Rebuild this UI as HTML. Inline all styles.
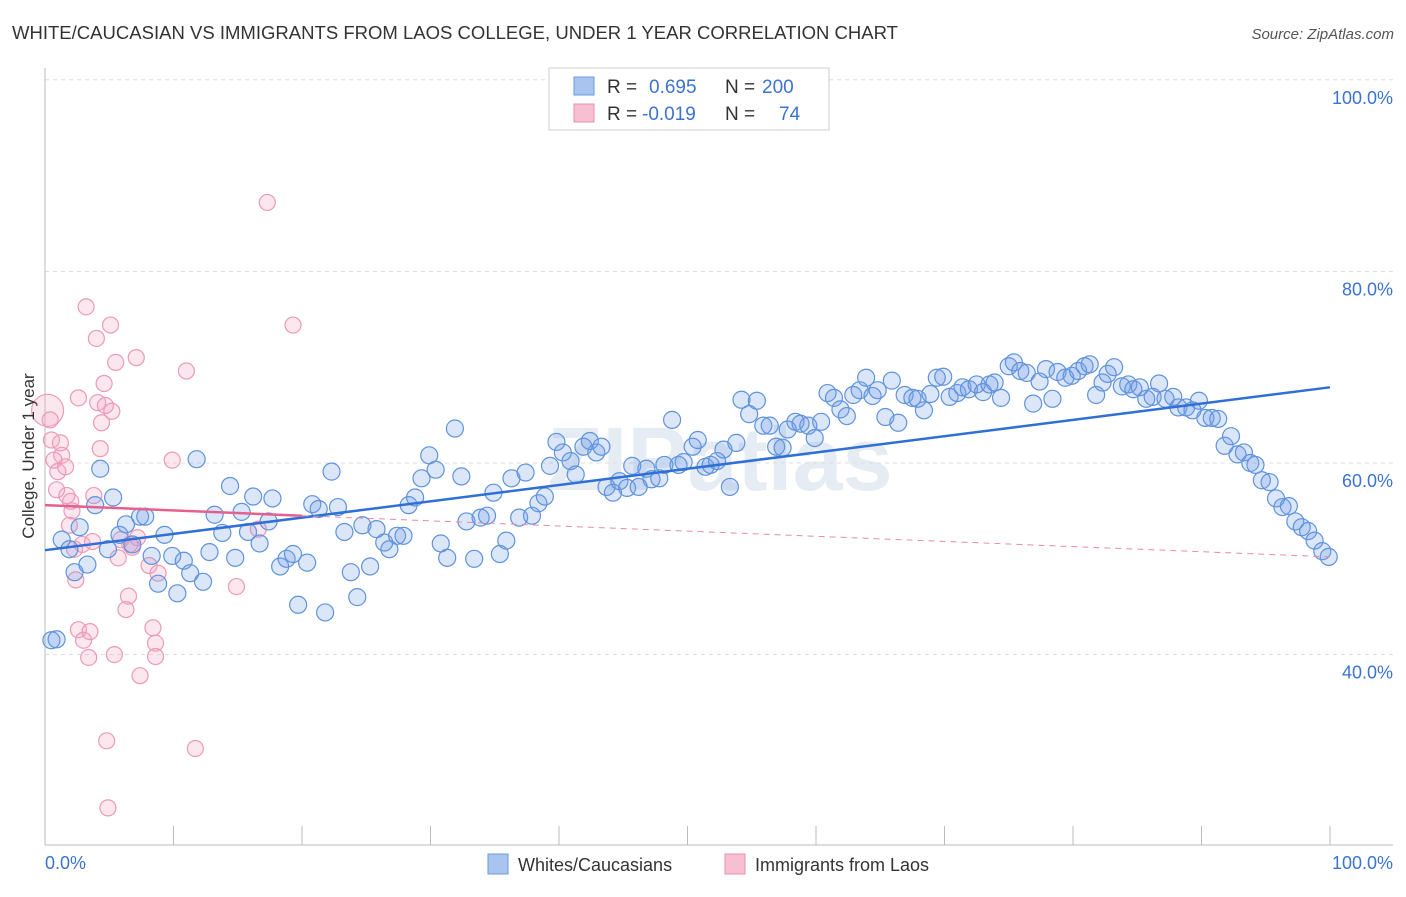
<!DOCTYPE html>
<html><head><meta charset="utf-8"><style>
body{margin:0;background:#fff;font-family:"Liberation Sans",sans-serif;}
svg text{font-family:"Liberation Sans",sans-serif;}
</style></head><body>
<svg id="chart" width="1406" height="892">
<text x="12" y="39" font-size="18" fill="#333" textLength="886" lengthAdjust="spacingAndGlyphs">WHITE/CAUCASIAN VS IMMIGRANTS FROM LAOS COLLEGE, UNDER 1 YEAR CORRELATION CHART</text>
<text x="1394" y="39" font-size="15" fill="#555" font-style="italic" text-anchor="end">Source: ZipAtlas.com</text>
<text x="720" y="490" font-size="90" fill="#e6ecf4" text-anchor="middle" font-weight="bold">ZIPatlas</text>
<g id="grid"></g><g id="axes"></g><g id="pinkpts"></g><g id="bluepts"></g><g id="trends"></g>
<text transform="translate(34,456) rotate(-90)" font-size="17" fill="#333" text-anchor="middle">College, Under 1 year</text>
<text x="45" y="869" font-size="18" fill="#3b73d1">0.0%</text>
<text x="1393" y="869" font-size="18" fill="#3b73d1" text-anchor="end">100.0%</text>
<g>
<rect x="549" y="68" width="280" height="62" fill="#fff" stroke="#ccc"/>
<rect x="574" y="77" width="20" height="18" fill="#a9c4ee" stroke="#6a9ae0"/>
<rect x="574" y="104" width="20" height="18" fill="#f7c0d2" stroke="#ea8fb0"/>
<text x="607" y="93" font-size="19" fill="#333">R =</text>
<text x="649" y="93" font-size="19" fill="#3b73d1">0.695</text>
<text x="725" y="93" font-size="19" fill="#333">N =</text>
<text x="762" y="93" font-size="19" fill="#3b73d1">200</text>
<text x="607" y="120" font-size="19" fill="#333">R =</text>
<text x="642" y="120" font-size="19" fill="#3b73d1">-0.019</text>
<text x="725" y="120" font-size="19" fill="#333">N =</text>
<text x="779" y="120" font-size="19" fill="#3b73d1">74</text>
</g>
<g>
<rect x="488" y="854" width="20" height="20" fill="#a9c4ee" stroke="#6a9ae0"/>
<text x="518" y="871" font-size="18" fill="#333">Whites/Caucasians</text>
<rect x="725" y="854" width="20" height="20" fill="#f7c0d2" stroke="#ea8fb0"/>
<text x="755" y="871" font-size="18" fill="#333">Immigrants from Laos</text>
</g>
</svg>
<script>
const blueX=[0.5,0.9,1.3,1.9,2.3,2.7,3.3,3.9,4.3,4.9,5.3,5.8,6.3,6.8,7.4,7.8,8.3,8.8,9.3,9.9,10.3,10.8,11.3,11.8,12.3,12.8,13.2,13.8,14.4,14.8,15.3,15.8,16.2,16.7,17.4,17.7,18.3,18.8,19.3,19.7,20.4,20.8,21.3,21.8,22.3,22.8,23.3,23.8,24.3,24.7,25.3,25.8,26.4,26.8,27.4,27.9,28.3,28.8,29.3,29.9,30.4,30.8,31.3,31.9,32.4,32.8,33.4,33.9,34.4,34.9,35.4,35.9,36.3,36.9,37.4,37.9,38.4,38.9,39.3,39.8,40.3,40.9,41.3,41.9,42.4,42.9,43.3,43.7,44.2,44.7,45.3,45.7,46.2,46.8,47.2,47.8,48.2,48.8,49.3,49.7,50.4,50.8,51.4,51.8,52.3,52.8,53.3,53.8,54.2,54.8,55.4,55.9,56.4,56.9,57.4,57.8,58.4,58.8,59.4,59.9,60.4,60.9,61.4,61.9,62.4,62.9,63.4,63.9,64.4,64.8,65.4,65.9,66.4,66.9,67.5,67.9,68.4,68.9,69.4,69.9,70.4,71,71.4,71.9,72.5,73,73.5,73.9,74.4,75,75.4,75.9,76.4,76.9,77.4,77.9,78.4,78.8,79.4,79.9,80.4,80.9,81.3,81.8,82.3,82.7,83.2,83.8,84.3,84.7,85.2,85.7,86.2,86.7,87.2,87.8,88.2,88.8,89.3,89.8,90.3,90.8,91.3,91.8,92.3,92.8,93.3,93.8,94.2,94.7,95.3,95.8,96.3,96.8,97.3,97.8,98.3,98.8,99.4,99.9];
const blueY=[41.5,41.6,52,51,48.6,53.3,49.4,55.6,59.4,51,56.4,52.5,53.6,51.5,54.4,54.4,50.3,47.4,52.5,50.3,46.4,49.8,48.5,60.4,47.6,50.7,54.6,52.7,57.6,50.1,54.9,52.8,56.5,51.6,53.9,56.3,49.2,50,50.5,45.2,49.6,55.7,55.2,44.4,59.1,55.4,52.8,48.6,46,53.5,49.2,53.1,51.7,51,52.4,52.4,55.6,56.4,58.4,60.8,59.3,51.6,50.1,63.6,58.6,53.9,50,54.3,54.5,56.9,50.5,51.9,58.4,54.3,59,54.5,55.8,56.5,59.7,62.2,61.1,60.2,58.8,61.7,62.3,61.1,61.7,57.5,56.9,58.1,57.4,59.7,57.5,59.4,58.3,58.4,59.8,64.5,59.8,60.1,61.7,62.4,59.6,59.8,60.2,61.4,57.5,62.1,66.6,65.1,66.5,63.9,63.9,61.7,61.6,63.5,64.3,64.1,63.9,62.6,64.3,67.3,66.8,65.6,64.9,67.1,67.6,68.9,67,67.6,64.8,68.6,64.2,67.1,66.8,66.7,65.5,67.2,68.9,69,66.9,67.3,67.9,67.7,68.2,67.4,68.2,68.4,66.8,70.1,70.5,69.6,69.4,66.2,68.5,69.8,66.7,69.5,68.9,69.1,69.6,70.1,70.3,67.1,68.4,69.3,70,68,68.2,67.7,67.9,66.7,66.9,68.3,66.7,66.9,65.8,65.8,65.5,66.5,64.7,64.7,64.6,61.8,62.8,60.9,61.1,60,59.8,58.2,58,56.3,55.4,55.5,53.9,53.3,52.9,51.9,50.8,50.2];
const pinkX=[0.2,0.4,0.5,0.7,0.9,1,1.2,1.3,1.6,1.7,1.9,2,2.1,2.3,2.4,2.6,2.6,2.9,3,3.2,3.4,3.5,3.7,3.8,4,4.1,4.3,4.4,4.6,4.7,4.8,4.9,5.1,5.2,5.4,5.5,5.7,5.9,6.3,6.5,6.6,6.8,7.1,7.2,7.4,8.1,8.4,8.6,8.6,8.8,9.9,11,11.7,14.9,16.6,17.3,19.3];
const pinkY=[65.5,64.5,62.4,60.3,57.2,59.1,62.1,60.8,59.6,56.6,53.5,56,55,51,47.8,66.8,42.6,51.5,41.5,76.3,39.7,42.4,51.8,56.6,73,66.3,61.5,64.2,68.3,66,31,24,74.4,65.4,40,70.5,50.1,52,44.7,46.1,51.5,51.2,71,52.2,37.8,49.3,42.8,41.2,39.8,48.5,60.3,69.6,30.2,47.1,53.1,87.2,74.4];
const yTicks=[40,60,80,100];
const yTickLabels=["40.0%","60.0%","80.0%","100.0%"];
const blueTrend=[[0,50.9],[100,67.9]];
const pinkTrend=[[0,55.6],[20,54.5],[100,50.2]];
const X=v=>45+v*12.85, Y=v=>463-(v-60)*9.58;
const NS="http://www.w3.org/2000/svg";
function mk(p,t,a){const e=document.createElementNS(NS,t);for(const k in a)e.setAttribute(k,a[k]);p.appendChild(e);return e;}
const grid=document.getElementById('grid'),axes=document.getElementById('axes');
yTicks.forEach((t,i)=>{
 const l=mk(grid,'line',{x1:45,x2:1393,y1:Y(t),y2:Y(t),stroke:'#ddd','stroke-dasharray':'4,4'});
 
 
 const tx=mk(grid,'text',{x:1393,y:Y(t)+24,'font-size':18,fill:'#3b73d1','text-anchor':'end'});
 tx.textContent=yTickLabels[i];
 
 
});
mk(axes,'line',{x1:45,x2:45,y1:68,y2:845,stroke:'#bbb'});
mk(axes,'line',{x1:45,x2:1393,y1:845,y2:845,stroke:'#bbb'});
for(let i=0;i<=10;i++){const t=mk(axes,'line',{x1:X(i*10),x2:X(i*10),y1:826,y2:845,stroke:'#bbb'});
 
 }
const pg=document.getElementById('pinkpts');
pinkX.forEach((x,i)=>{const c=mk(pg,'circle',{cx:X(x),cy:Y(pinkY[i]),r:i==0?16:8,fill:'rgba(244,160,190,0.25)',stroke:'#ec9ab6','stroke-width':1.2});
 
 });
const bg=document.getElementById('bluepts');
blueX.forEach((x,i)=>{const c=mk(bg,'circle',{cx:X(x),cy:Y(blueY[i]),r:8.5,fill:'rgba(110,155,230,0.25)',stroke:'#5f93dc','stroke-width':1.2});
 
 });
const tg=document.getElementById('trends');
const bt=mk(tg,'line',{x1:X(blueTrend[0][0]),y1:Y(blueTrend[0][1]),x2:X(blueTrend[1][0]),y2:Y(blueTrend[1][1]),stroke:'#2f6fd6','stroke-width':2.5});


const pt=mk(tg,'line',{x1:X(pinkTrend[0][0]),y1:Y(pinkTrend[0][1]),x2:X(pinkTrend[1][0]),y2:Y(pinkTrend[1][1]),stroke:'#e5608e','stroke-width':2.5});


const pd=mk(tg,'line',{x1:X(pinkTrend[1][0]),y1:Y(pinkTrend[1][1]),x2:X(pinkTrend[2][0]),y2:Y(pinkTrend[2][1]),stroke:'#e88aaa','stroke-width':1,'stroke-dasharray':'6,5'});


</script>
</body></html>
